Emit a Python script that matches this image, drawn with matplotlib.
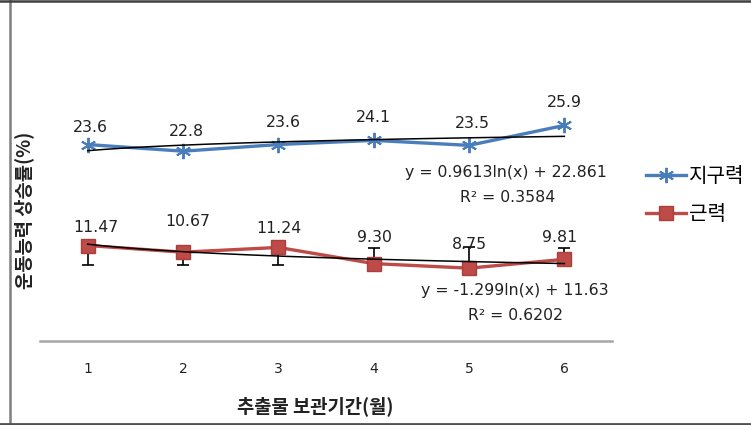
import matplotlib
matplotlib.use("Agg")
import matplotlib.pyplot as plt
import numpy as np
from matplotlib.lines import Line2D

plt.rcParams['font.family'] = ['Noto Sans CJK KR', 'DejaVu Sans']

# ---- data ----
months = [1, 2, 3, 4, 5, 6]
month_labels = ['1', '2', '3', '4', '5', '6']
endurance = [23.6, 22.8, 23.6, 24.1, 23.5, 25.9]
strength = [11.47, 10.67, 11.24, 9.30, 8.75, 9.81]
strength_err_low = [2.3, 1.5, 2.1, 0, 0, 0]
strength_err_high = [0, 0, 0, 1.9, 2.5, 1.4]
endurance_fit = (0.9613, 22.861)   # a*ln(x)+b
strength_fit = (-1.299, 11.63)
endurance_eq = ["y = 0.9613ln(x) + 22.861", "R² = 0.3584"]
strength_eq = ["y = -1.299ln(x) + 11.63", "R² = 0.6202"]
series_names = ['지구력', '근력']
xlabel = '추출물 보관기간(월)'
ylabel = '운동능력 상승률(%)'

# label offsets in pixels (dx, dy)
endurance_off = [(3, 17), (3, 20), (5, 22), (0, 23), (3, 22), (0, 23)]
strength_off = [(8, 18), (5, 31), (1, 19), (1, 26), (0, 24), (-5, 22)]

W, H = 751, 425
fig = plt.figure(figsize=(W / 100, H / 100), dpi=100)
ax = fig.add_axes([40 / W, (H - 341) / H, 572 / W, 333 / H])
ax.set_xlim(0.5, 6.5)
ax.set_ylim(0, 40)

blue = '#4A7EBB'
red = '#BE4B48'

l1, = ax.plot(months, endurance, color=blue, lw=2.4, marker=(6, 2, 0),
              markersize=11, markeredgewidth=1.4, markeredgecolor=blue,
              zorder=3, label=series_names[0])
l2, = ax.plot(months, strength, color=red, lw=2.4, marker='s',
              markersize=10, markerfacecolor=red, markeredgecolor='#A8403D',
              zorder=3, label=series_names[1])
ax.errorbar(months, strength, yerr=[strength_err_low, strength_err_high],
            fmt='none', ecolor='black', elinewidth=1.2, capsize=4.5,
            capthick=1.2, zorder=2)

xs = np.linspace(1, 6, 200)
ax.plot(xs, endurance_fit[0] * np.log(xs) + endurance_fit[1], color='black',
        lw=1.1, zorder=4)
ax.plot(xs, strength_fit[0] * np.log(xs) + strength_fit[1], color='black',
        lw=1.1, zorder=4)

for x, v, (dx, dy) in zip(months, endurance, endurance_off):
    ax.annotate(f"{v:.1f}", (x, v), xytext=(dx, dy), textcoords='offset pixels',
                ha='center', va='center', fontsize=11.3, color='#222222',
                family=['DejaVu Sans'])
for x, v, (dx, dy) in zip(months, strength, strength_off):
    ax.annotate(f"{v:.2f}", (x, v), xytext=(dx, dy), textcoords='offset pixels',
                ha='center', va='center', fontsize=11.3, color='#222222',
                family=['DejaVu Sans'])

# trendline equations
def figtext_px(x, y, s, **kw):
    fig.text(x / W, 1 - y / H, s, **kw)

eqkw = dict(ha='center', va='center', fontsize=11.3, color='#222222',
            family=['DejaVu Sans'])
figtext_px(506, 172, endurance_eq[0], **eqkw)
figtext_px(508, 197, endurance_eq[1], **eqkw)
figtext_px(515, 290, strength_eq[0], **eqkw)
figtext_px(515, 315, strength_eq[1], **eqkw)

ax.set_xticks(months)
ax.set_xticklabels(month_labels, fontsize=10, color='#222222',
                   family=['DejaVu Sans'])
ax.tick_params(axis='x', length=0, pad=15)
ax.set_yticks([])
for s in ['left', 'right', 'top']:
    ax.spines[s].set_visible(False)
ax.spines['bottom'].set_color('#A6A6A6')
ax.spines['bottom'].set_linewidth(1.8)

figtext_px(315, 406, xlabel, ha='center', va='center', fontsize=13.5,
           fontweight='bold', color='#222222')
figtext_px(24, 210, ylabel, ha='center', va='center', fontsize=13.5,
           fontweight='bold', color='#222222', rotation=90)

fig.legend(handles=[l1, l2], loc='upper left',
           bbox_to_anchor=(628 / W, 1 - 148 / H), frameon=False,
           fontsize=14.5, handlelength=2.0, handletextpad=0.15,
           labelspacing=0.85)

# outer border
fig.add_artist(Line2D([9.5 / W, 9.5 / W], [0, 1], transform=fig.transFigure,
                      color='#7F7F7F', lw=1.8))
fig.add_artist(Line2D([0, 1], [1 - 0.5 / H, 1 - 0.5 / H], transform=fig.transFigure,
                      color='#404040', lw=1.8))
fig.add_artist(Line2D([0, 1], [0.8 / H, 0.8 / H], transform=fig.transFigure,
                      color='#505050', lw=2))

fig.savefig('out.png', dpi=100)
